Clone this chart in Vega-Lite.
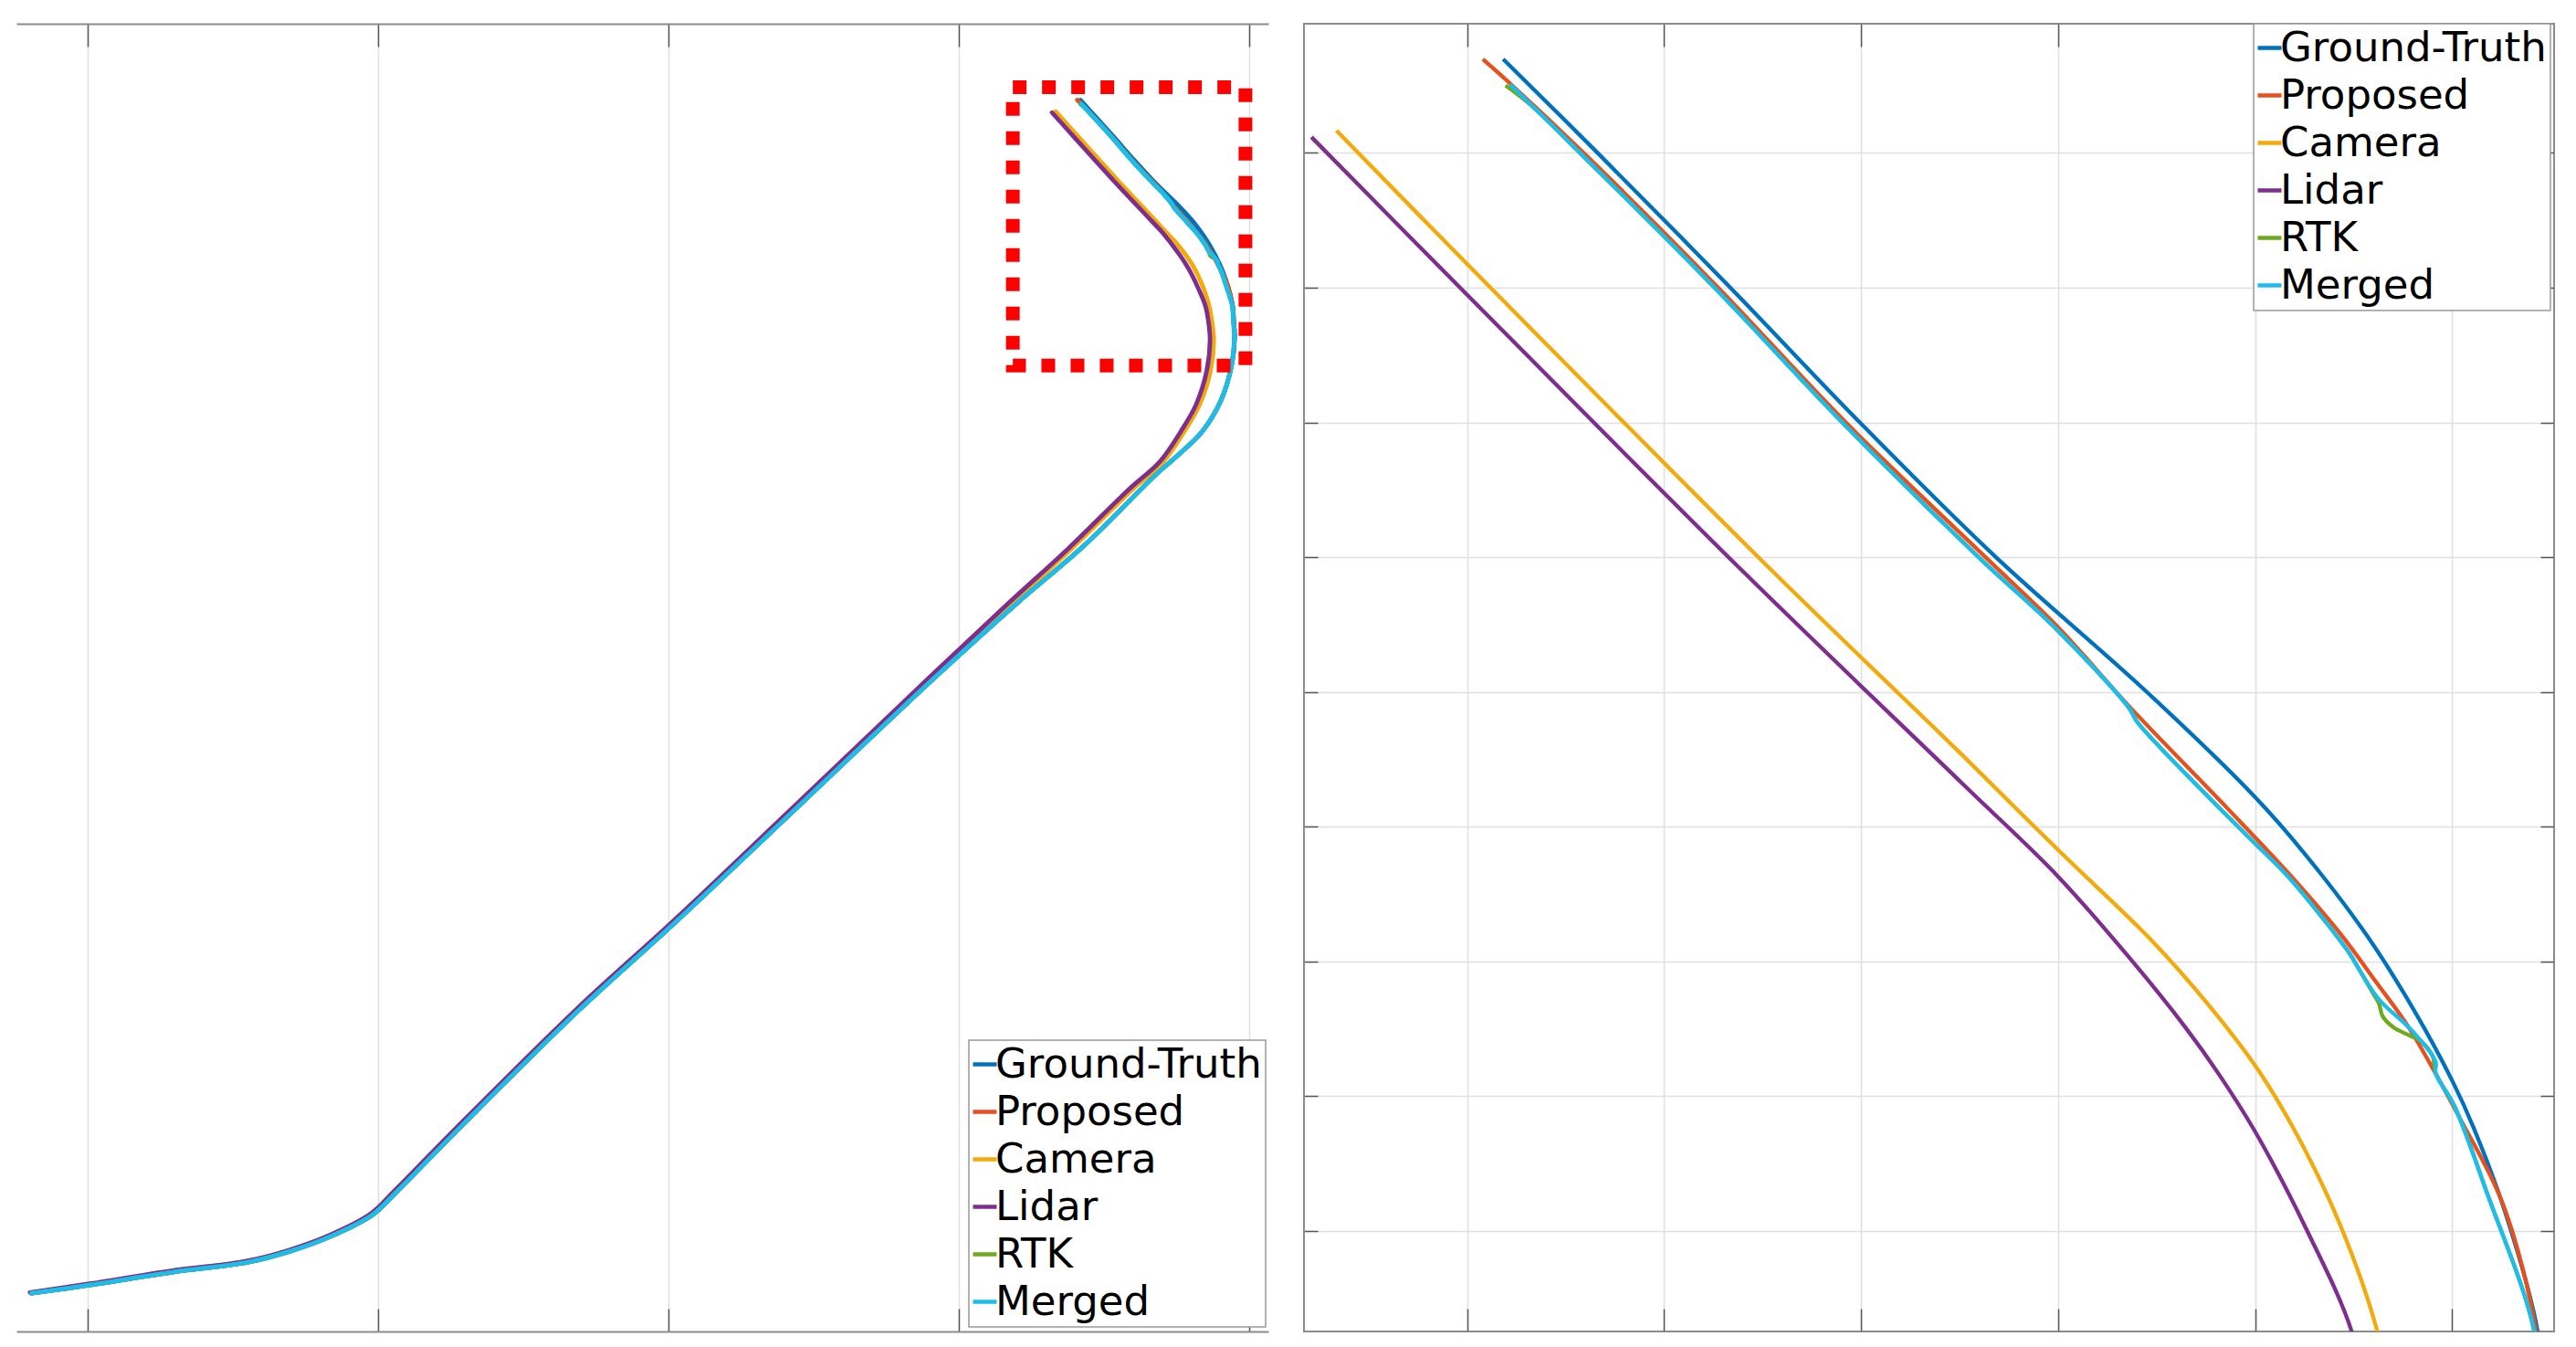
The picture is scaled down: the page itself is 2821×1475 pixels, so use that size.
{
  "$schema": "https://vega.github.io/schema/vega-lite/v6.json",
  "background": "white",
  "padding": {"left": 18, "top": 24, "right": 0, "bottom": 0},
  "spacing": 39,
  "bounds": "flush",
  "config": {
    "view": {"stroke": "#8c8c8c", "strokeWidth": 2},
    "font": "DejaVu Sans",
    "axis": {"labels": false, "domain": false, "domainColor": "#8c8c8c", "domainWidth": 2, "gridColor": "#e0e0e0", "gridWidth": 1.5, "tickColor": "#555555", "tickWidth": 1.5},
    "legend": {
      "orient": "none", "symbolType": "stroke", "symbolSize": 676, "symbolStrokeWidth": 4.5,
      "labelFontSize": 45, "labelFont": "DejaVu Sans", "labelColor": "black", "rowPadding": 6,
      "padding": 4, "strokeColor": "#999999", "strokeWidth": 1.5, "fillColor": "white",
      "symbolOffset": -9, "labelOffset": -11, "labelLimit": 500
    }
  },
  "resolve": {"legend": {"color": "independent"}},
  "datasets": {
    "box": [{"x1": 31.86, "x2": 39.87, "y1": 35.51, "y2": 48.28}],
    "anchor": [{"x": 36, "y": 43}],
    "traj": [
      {"s":"Ground-Truth","i":0,"x":-1.94,"y":-7.04},
      {"s":"Ground-Truth","i":1,"x":0.11,"y":-6.65},
      {"s":"Ground-Truth","i":2,"x":2.96,"y":-6.06},
      {"s":"Ground-Truth","i":3,"x":5.52,"y":-5.61},
      {"s":"Ground-Truth","i":4,"x":6.95,"y":-5.12},
      {"s":"Ground-Truth","i":5,"x":8.37,"y":-4.43},
      {"s":"Ground-Truth","i":6,"x":9.80,"y":-3.45},
      {"s":"Ground-Truth","i":7,"x":10.65,"y":-2.37},
      {"s":"Ground-Truth","i":8,"x":12.70,"y":0.40},
      {"s":"Ground-Truth","i":9,"x":16.92,"y":5.95},
      {"s":"Ground-Truth","i":10,"x":20.34,"y":10.1},
      {"s":"Ground-Truth","i":11,"x":24.04,"y":14.75},
      {"s":"Ground-Truth","i":12,"x":29.17,"y":21.2},
      {"s":"Ground-Truth","i":13,"x":32.01,"y":24.62},
      {"s":"Ground-Truth","i":14,"x":34.35,"y":27.30},
      {"s":"Ground-Truth","i":15,"x":36.81,"y":30.54},
      {"s":"Ground-Truth","i":16,"x":37.65,"y":31.52},
      {"s":"Ground-Truth","i":17,"x":38.39,"y":32.50},
      {"s":"Ground-Truth","i":18,"x":39.02,"y":33.89},
      {"s":"Ground-Truth","i":19,"x":39.38,"y":35.43},
      {"s":"Ground-Truth","i":20,"x":39.50,"y":36.81},
      {"s":"Ground-Truth","i":21,"x":39.47,"y":37.6},
      {"s":"Ground-Truth","i":22,"x":39.434,"y":38.253},
      {"s":"Ground-Truth","i":23,"x":39.27,"y":39.134},
      {"s":"Ground-Truth","i":24,"x":39.108,"y":39.769},
      {"s":"Ground-Truth","i":25,"x":39.0,"y":40.116},
      {"s":"Ground-Truth","i":26,"x":38.813,"y":40.621},
      {"s":"Ground-Truth","i":27,"x":38.572,"y":41.182},
      {"s":"Ground-Truth","i":28,"x":38.251,"y":41.80},
      {"s":"Ground-Truth","i":29,"x":38.0,"y":42.219},
      {"s":"Ground-Truth","i":30,"x":37.45,"y":43.0},
      {"s":"Ground-Truth","i":31,"x":36.684,"y":44.0},
      {"s":"Ground-Truth","i":32,"x":35.993,"y":45.0},
      {"s":"Ground-Truth","i":33,"x":35.336,"y":46.0},
      {"s":"Ground-Truth","i":34,"x":34.662,"y":47.0},
      {"s":"Ground-Truth","i":35,"x":34.183,"y":47.695},

      {"s":"Proposed","i":0,"x":-1.94,"y":-7.04},
      {"s":"Proposed","i":1,"x":0.11,"y":-6.65},
      {"s":"Proposed","i":2,"x":2.96,"y":-6.06},
      {"s":"Proposed","i":3,"x":5.52,"y":-5.61},
      {"s":"Proposed","i":4,"x":6.95,"y":-5.12},
      {"s":"Proposed","i":5,"x":8.37,"y":-4.43},
      {"s":"Proposed","i":6,"x":9.80,"y":-3.45},
      {"s":"Proposed","i":7,"x":10.65,"y":-2.37},
      {"s":"Proposed","i":8,"x":12.70,"y":0.40},
      {"s":"Proposed","i":9,"x":16.92,"y":5.95},
      {"s":"Proposed","i":10,"x":20.34,"y":10.1},
      {"s":"Proposed","i":11,"x":24.04,"y":14.75},
      {"s":"Proposed","i":12,"x":29.17,"y":21.2},
      {"s":"Proposed","i":13,"x":32.01,"y":24.62},
      {"s":"Proposed","i":14,"x":34.35,"y":27.30},
      {"s":"Proposed","i":15,"x":36.81,"y":30.54},
      {"s":"Proposed","i":16,"x":37.65,"y":31.52},
      {"s":"Proposed","i":17,"x":38.39,"y":32.50},
      {"s":"Proposed","i":18,"x":39.02,"y":33.89},
      {"s":"Proposed","i":19,"x":39.38,"y":35.43},
      {"s":"Proposed","i":20,"x":39.50,"y":36.81},
      {"s":"Proposed","i":21,"x":39.46,"y":37.6},
      {"s":"Proposed","i":22,"x":39.426,"y":38.253},
      {"s":"Proposed","i":23,"x":39.258,"y":39.198},
      {"s":"Proposed","i":24,"x":39.04,"y":39.833},
      {"s":"Proposed","i":25,"x":38.78,"y":40.509},
      {"s":"Proposed","i":26,"x":38.615,"y":40.845},
      {"s":"Proposed","i":27,"x":38.43,"y":41.21},
      {"s":"Proposed","i":28,"x":38.167,"y":41.658},
      {"s":"Proposed","i":29,"x":37.86,"y":42.135},
      {"s":"Proposed","i":30,"x":37.361,"y":42.892},
      {"s":"Proposed","i":31,"x":37.0,"y":43.48},
      {"s":"Proposed","i":32,"x":36.631,"y":44.0},
      {"s":"Proposed","i":33,"x":35.922,"y":45.0},
      {"s":"Proposed","i":34,"x":35.274,"y":46.0},
      {"s":"Proposed","i":35,"x":34.591,"y":47.0},
      {"s":"Proposed","i":36,"x":34.21,"y":47.526},
      {"s":"Proposed","i":37,"x":34.08,"y":47.695},

      {"s":"Camera","i":0,"x":-1.97,"y":-7.02},
      {"s":"Camera","i":1,"x":0.08,"y":-6.63},
      {"s":"Camera","i":2,"x":2.93,"y":-6.03},
      {"s":"Camera","i":3,"x":5.49,"y":-5.58},
      {"s":"Camera","i":4,"x":6.92,"y":-5.09},
      {"s":"Camera","i":5,"x":8.34,"y":-4.40},
      {"s":"Camera","i":6,"x":9.77,"y":-3.42},
      {"s":"Camera","i":7,"x":10.61,"y":-2.34},
      {"s":"Camera","i":8,"x":12.66,"y":0.43},
      {"s":"Camera","i":9,"x":16.88,"y":5.98},
      {"s":"Camera","i":10,"x":20.30,"y":10.12},
      {"s":"Camera","i":11,"x":23.99,"y":14.78},
      {"s":"Camera","i":12,"x":29.08,"y":21.23},
      {"s":"Camera","i":13,"x":31.80,"y":24.6},
      {"s":"Camera","i":14,"x":33.87,"y":27.1},
      {"s":"Camera","i":15,"x":35.97,"y":29.82},
      {"s":"Camera","i":16,"x":37.02,"y":31.07},
      {"s":"Camera","i":17,"x":37.76,"y":32.48},
      {"s":"Camera","i":18,"x":38.30,"y":33.74},
      {"s":"Camera","i":19,"x":38.67,"y":35.29},
      {"s":"Camera","i":20,"x":38.78,"y":36.68},
      {"s":"Camera","i":21,"x":38.72,"y":37.5},
      {"s":"Camera","i":22,"x":38.62,"y":38.254},
      {"s":"Camera","i":23,"x":38.43,"y":39.05},
      {"s":"Camera","i":24,"x":38.21,"y":39.72},
      {"s":"Camera","i":25,"x":38.013,"y":40.2},
      {"s":"Camera","i":26,"x":37.764,"y":40.677},
      {"s":"Camera","i":27,"x":37.476,"y":41.154},
      {"s":"Camera","i":28,"x":37.0,"y":41.827},
      {"s":"Camera","i":29,"x":36.516,"y":42.528},
      {"s":"Camera","i":30,"x":36.108,"y":43.104},
      {"s":"Camera","i":31,"x":35.549,"y":43.897},
      {"s":"Camera","i":32,"x":33.97,"y":46.22},
      {"s":"Camera","i":33,"x":33.337,"y":47.165},

      {"s":"Lidar","i":0,"x":-1.99,"y":-7.0},
      {"s":"Lidar","i":1,"x":0.06,"y":-6.6},
      {"s":"Lidar","i":2,"x":2.91,"y":-6.0},
      {"s":"Lidar","i":3,"x":5.47,"y":-5.56},
      {"s":"Lidar","i":4,"x":6.90,"y":-5.07},
      {"s":"Lidar","i":5,"x":8.32,"y":-4.38},
      {"s":"Lidar","i":6,"x":9.74,"y":-3.40},
      {"s":"Lidar","i":7,"x":10.58,"y":-2.32},
      {"s":"Lidar","i":8,"x":12.62,"y":0.45},
      {"s":"Lidar","i":9,"x":16.84,"y":6.0},
      {"s":"Lidar","i":10,"x":20.26,"y":10.15},
      {"s":"Lidar","i":11,"x":23.94,"y":14.8},
      {"s":"Lidar","i":12,"x":29.02,"y":21.25},
      {"s":"Lidar","i":13,"x":31.70,"y":24.6},
      {"s":"Lidar","i":14,"x":33.77,"y":27.12},
      {"s":"Lidar","i":15,"x":35.87,"y":29.85},
      {"s":"Lidar","i":16,"x":36.92,"y":31.10},
      {"s":"Lidar","i":17,"x":37.65,"y":32.50},
      {"s":"Lidar","i":18,"x":38.18,"y":33.75},
      {"s":"Lidar","i":19,"x":38.54,"y":35.29},
      {"s":"Lidar","i":20,"x":38.65,"y":36.68},
      {"s":"Lidar","i":21,"x":38.60,"y":37.5},
      {"s":"Lidar","i":22,"x":38.49,"y":38.254},
      {"s":"Lidar","i":23,"x":38.262,"y":39.007},
      {"s":"Lidar","i":24,"x":38.0,"y":39.737},
      {"s":"Lidar","i":25,"x":37.812,"y":40.172},
      {"s":"Lidar","i":26,"x":37.647,"y":40.509},
      {"s":"Lidar","i":27,"x":37.37,"y":41.013},
      {"s":"Lidar","i":28,"x":37.0,"y":41.63},
      {"s":"Lidar","i":29,"x":36.516,"y":42.317},
      {"s":"Lidar","i":30,"x":35.398,"y":43.897},
      {"s":"Lidar","i":31,"x":33.97,"y":45.991},
      {"s":"Lidar","i":32,"x":33.21,"y":47.117},

      {"s":"RTK","i":0,"x":-1.94,"y":-7.04},
      {"s":"RTK","i":1,"x":0.11,"y":-6.65},
      {"s":"RTK","i":2,"x":2.96,"y":-6.06},
      {"s":"RTK","i":3,"x":5.52,"y":-5.61},
      {"s":"RTK","i":4,"x":6.95,"y":-5.12},
      {"s":"RTK","i":5,"x":8.37,"y":-4.43},
      {"s":"RTK","i":6,"x":9.80,"y":-3.45},
      {"s":"RTK","i":7,"x":10.65,"y":-2.37},
      {"s":"RTK","i":8,"x":12.70,"y":0.40},
      {"s":"RTK","i":9,"x":16.92,"y":5.95},
      {"s":"RTK","i":10,"x":20.34,"y":10.1},
      {"s":"RTK","i":11,"x":24.04,"y":14.75},
      {"s":"RTK","i":12,"x":29.17,"y":21.2},
      {"s":"RTK","i":13,"x":32.01,"y":24.62},
      {"s":"RTK","i":14,"x":34.35,"y":27.30},
      {"s":"RTK","i":15,"x":36.81,"y":30.54},
      {"s":"RTK","i":16,"x":37.65,"y":31.52},
      {"s":"RTK","i":17,"x":38.39,"y":32.50},
      {"s":"RTK","i":18,"x":39.02,"y":33.89},
      {"s":"RTK","i":19,"x":39.38,"y":35.43},
      {"s":"RTK","i":20,"x":39.49,"y":36.81},
      {"s":"RTK","i":21,"x":39.45,"y":37.6},
      {"s":"RTK","i":22,"x":39.417,"y":38.253},
      {"s":"RTK","i":23,"x":39.174,"y":39.293},
      {"s":"RTK","i":24,"x":39.012,"y":39.925},
      {"s":"RTK","i":25,"x":38.916,"y":40.172},
      {"s":"RTK","i":26,"x":38.90,"y":40.30},
      {"s":"RTK","i":27,"x":38.839,"y":40.41},
      {"s":"RTK","i":28,"x":38.781,"y":40.453},
      {"s":"RTK","i":29,"x":38.704,"y":40.509},
      {"s":"RTK","i":30,"x":38.647,"y":40.593},
      {"s":"RTK","i":31,"x":38.628,"y":40.69},
      {"s":"RTK","i":32,"x":38.60,"y":40.76},
      {"s":"RTK","i":33,"x":38.532,"y":40.93},
      {"s":"RTK","i":34,"x":38.474,"y":41.07},
      {"s":"RTK","i":35,"x":38.167,"y":41.63},
      {"s":"RTK","i":36,"x":37.994,"y":41.883},
      {"s":"RTK","i":37,"x":37.745,"y":42.247},
      {"s":"RTK","i":38,"x":37.4,"y":42.78},
      {"s":"RTK","i":39,"x":37.361,"y":42.878},
      {"s":"RTK","i":40,"x":37.0,"y":43.453},
      {"s":"RTK","i":41,"x":36.596,"y":44.0},
      {"s":"RTK","i":42,"x":35.904,"y":45.0},
      {"s":"RTK","i":43,"x":35.256,"y":46.0},
      {"s":"RTK","i":44,"x":34.573,"y":47.0},
      {"s":"RTK","i":45,"x":34.325,"y":47.352},
      {"s":"RTK","i":46,"x":34.195,"y":47.50},

      {"s":"Merged","i":0,"x":-1.94,"y":-7.04},
      {"s":"Merged","i":1,"x":0.11,"y":-6.65},
      {"s":"Merged","i":2,"x":2.96,"y":-6.06},
      {"s":"Merged","i":3,"x":5.52,"y":-5.61},
      {"s":"Merged","i":4,"x":6.95,"y":-5.12},
      {"s":"Merged","i":5,"x":8.37,"y":-4.43},
      {"s":"Merged","i":6,"x":9.80,"y":-3.45},
      {"s":"Merged","i":7,"x":10.65,"y":-2.37},
      {"s":"Merged","i":8,"x":12.70,"y":0.40},
      {"s":"Merged","i":9,"x":16.92,"y":5.95},
      {"s":"Merged","i":10,"x":20.34,"y":10.1},
      {"s":"Merged","i":11,"x":24.04,"y":14.75},
      {"s":"Merged","i":12,"x":29.17,"y":21.2},
      {"s":"Merged","i":13,"x":32.01,"y":24.62},
      {"s":"Merged","i":14,"x":34.35,"y":27.30},
      {"s":"Merged","i":15,"x":36.81,"y":30.54},
      {"s":"Merged","i":16,"x":37.65,"y":31.52},
      {"s":"Merged","i":17,"x":38.39,"y":32.50},
      {"s":"Merged","i":18,"x":39.02,"y":33.89},
      {"s":"Merged","i":19,"x":39.38,"y":35.43},
      {"s":"Merged","i":20,"x":39.49,"y":36.81},
      {"s":"Merged","i":21,"x":39.45,"y":37.6},
      {"s":"Merged","i":22,"x":39.417,"y":38.253},
      {"s":"Merged","i":23,"x":39.174,"y":39.293},
      {"s":"Merged","i":24,"x":39.012,"y":39.925},
      {"s":"Merged","i":25,"x":38.916,"y":40.172},
      {"s":"Merged","i":26,"x":38.916,"y":40.256},
      {"s":"Merged","i":27,"x":38.80,"y":40.481},
      {"s":"Merged","i":28,"x":38.628,"y":40.719},
      {"s":"Merged","i":29,"x":38.532,"y":40.93},
      {"s":"Merged","i":30,"x":38.474,"y":41.07},
      {"s":"Merged","i":31,"x":38.167,"y":41.63},
      {"s":"Merged","i":32,"x":37.994,"y":41.883},
      {"s":"Merged","i":33,"x":37.745,"y":42.247},
      {"s":"Merged","i":34,"x":37.4,"y":42.78},
      {"s":"Merged","i":35,"x":37.361,"y":42.878},
      {"s":"Merged","i":36,"x":37.0,"y":43.453},
      {"s":"Merged","i":37,"x":36.596,"y":44.0},
      {"s":"Merged","i":38,"x":35.904,"y":45.0},
      {"s":"Merged","i":39,"x":35.256,"y":46.0},
      {"s":"Merged","i":40,"x":34.573,"y":47.0},
      {"s":"Merged","i":41,"x":34.218,"y":47.508}
    ]
  },
  "hconcat": [
    {
      "width": 1371,
      "height": 1432,
      "view": {"stroke": null},
      "layer": [
        {
          "data": {"name": "traj"},
          "mark": {"type": "line", "strokeWidth": 4.8, "clip": true, "strokeJoin": "round", "strokeCap": "round", "interpolate": "catmull-rom"},
          "encoding": {
            "x": {"field": "x", "type": "quantitative", "scale": {"domain": [-2.453, 40.66], "nice": false, "zero": false},
                  "axis": {"orient": "bottom", "title": null, "values": [0, 10, 20, 30, 40], "tickSize": -25, "domain": true}},
            "y": {"field": "y", "type": "quantitative", "scale": {"domain": [-8.79, 51.19], "nice": false, "zero": false},
                  "axis": {"orient": "left", "title": null, "values": [0, 10, 20, 30, 40, 50], "tickSize": -15, "domain": true}},
            "color": {"field": "s", "type": "nominal",
                      "scale": {"domain": ["Ground-Truth", "Proposed", "Camera", "Lidar", "RTK", "Merged"],
                                "range": ["#0072BD", "#E5501C", "#F2AA0C", "#7E2F8E", "#6FAA1E", "#1CBDED"]},
                      "legend": {"title": null, "orient": "none", "legendX": 1043, "legendY": 1113}},
            "order": {"field": "i", "type": "quantitative"}
          }
        },
        {
          "data": {"name": "box"},
          "mark": {"type": "rect", "filled": false, "stroke": "#ff0000", "strokeWidth": 15, "strokeDash": [15, 17]},
          "encoding": {
            "x": {"field": "x1", "type": "quantitative",
                  "axis": {"orient": "top", "title": null, "values": [0, 10, 20, 30, 40], "tickSize": -25, "grid": false, "domain": true}},
            "x2": {"field": "x2"},
            "y": {"field": "y1", "type": "quantitative", "axis": null},
            "y2": {"field": "y2"}
          }
        }
      ]
    },
    {
      "width": 1369,
      "height": 1432,
      "layer": [
        {
          "data": {"name": "traj"},
          "mark": {"type": "line", "strokeWidth": 4.3, "clip": true, "strokeJoin": "round", "interpolate": "catmull-rom"},
          "encoding": {
            "x": {"field": "x", "type": "quantitative", "scale": {"domain": [33.172, 39.517], "nice": false, "zero": false},
                  "axis": {"orient": "bottom", "title": null, "values": [34, 35, 36, 37, 38, 39], "tickSize": -25}},
            "y": {"field": "y", "type": "quantitative", "scale": {"domain": [38.255, 47.958], "nice": false, "zero": false},
                  "axis": {"orient": "left", "title": null, "values": [39, 40, 41, 42, 43, 44, 45, 46, 47], "tickSize": -15}},
            "color": {"field": "s", "type": "nominal",
                      "scale": {"domain": ["Ground-Truth", "Proposed", "Camera", "Lidar", "RTK", "Merged"],
                                "range": ["#0072BD", "#E5501C", "#F2AA0C", "#7E2F8E", "#6FAA1E", "#1CBDED"]},
                      "legend": {"title": null, "orient": "none", "legendX": 1040, "legendY": 0}},
            "order": {"field": "i", "type": "quantitative"}
          }
        },
        {
          "data": {"name": "anchor"},
          "mark": {"type": "point", "opacity": 0},
          "encoding": {
            "x": {"field": "x", "type": "quantitative",
                  "axis": {"orient": "top", "title": null, "values": [34, 35, 36, 37, 38, 39], "tickSize": -25, "grid": false}},
            "y": {"field": "y", "type": "quantitative",
                  "axis": {"orient": "right", "title": null, "values": [39, 40, 41, 42, 43, 44, 45, 46, 47], "tickSize": -15, "grid": false}}
          }
        }
      ]
    }
  ]
}
